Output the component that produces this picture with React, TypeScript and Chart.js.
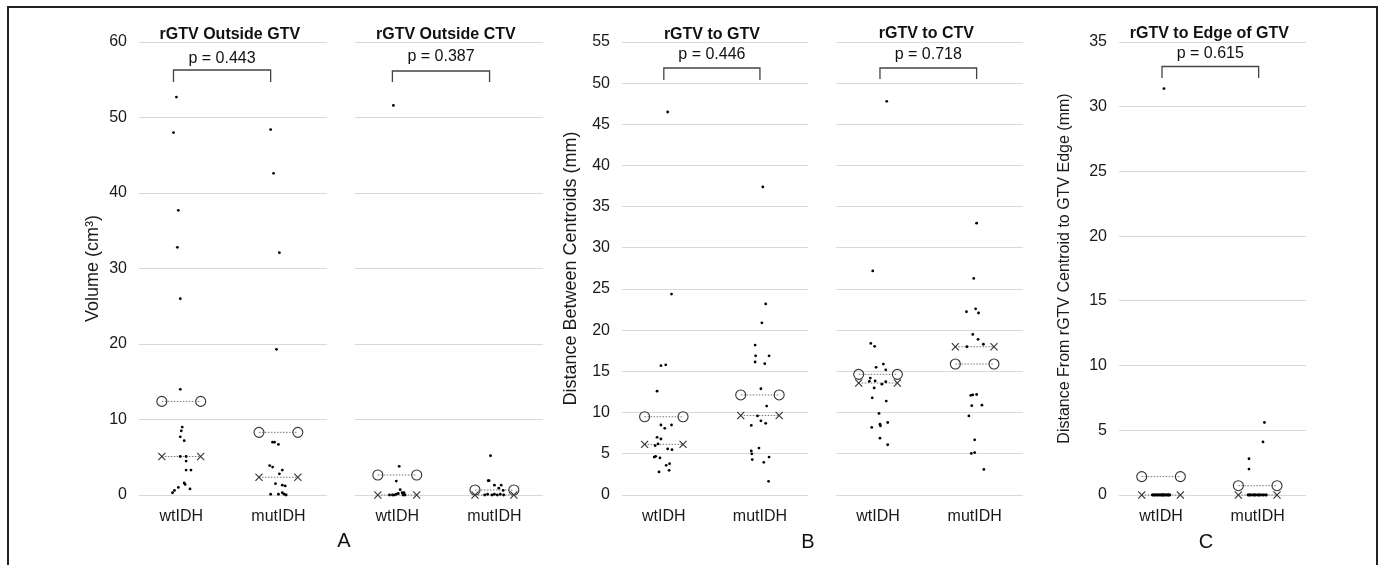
import React, { useEffect, useRef } from "react";
import { Chart, registerables } from "chart.js";

Chart.register(...registerables);

const FONT = '"Liberation Sans", Arial, Helvetica, sans-serif';
const W = 1383;
const H = 565;

// ---------- data ----------
const CATEGORIES = ["wtIDH", "mutIDH"];

// A1: rGTV Outside GTV (cm³)
const outGtvWt = [52.7, 48.0, 37.7, 32.8, 26.0, 14.0, 9.0, 8.5, 7.7, 7.2, 5.1, 5.1, 4.5, 3.3, 3.3, 1.6, 1.4, 0.8, 1.0, 0.6, 0.3];
const outGtvWtJitter = [-0.05, -0.08, -0.03, -0.04, -0.01, -0.01, 0.01, 0, -0.01, 0.03, -0.01, 0.05, 0.05, 0.05, 0.1, 0.03, 0.04, 0.09, -0.03, -0.07, -0.09];
const outGtvMut = [48.4, 42.6, 32.1, 19.3, 7.0, 7.0, 6.7, 3.9, 3.7, 3.3, 2.8, 1.5, 1.3, 1.2, 0.1, 0.1, 0.3, 0.1, 0.0];
const outGtvMutJitter = [-0.08, -0.05, 0.01, -0.02, -0.06, -0.04, 0, -0.09, -0.06, 0.04, 0.01, -0.03, 0.04, 0.07, -0.08, 0, 0.04, 0.06, 0.08];
const outGtvMeans = [12.4, 8.3];
const outGtvMedians = [5.1, 2.35];

// A2: rGTV Outside CTV (cm³)
const outCtvWt = [51.6, 3.8, 1.85, 0, 0, 0, 0.7, 0.3, 0.3, 0, 0.1, 0.2, 0];
const outCtvWtJitter = [-0.04, 0.02, -0.01, -0.08, -0.05, -0.03, 0.03, 0.05, 0.07, 0.08, -0.01, 0.01, 0.06];
const outCtvMut = [5.2, 1.9, 1.9, 1.3, 1.3, 0.9, 0.6, 0, 0.1, 0, 0.1, 0, 0.1, 0];
const outCtvMutJitter = [-0.04, -0.065, -0.055, 0, 0.07, 0.045, 0.09, -0.1, -0.07, -0.025, 0, 0.03, 0.06, 0.095];
const outCtvMeans = [2.65, 0.66];
const outCtvMedians = [0, 0];

// B1: rGTV to GTV (mm)
const toGtvWt = [46.5, 24.4, 15.7, 15.8, 12.6, 8.5, 8.5, 8.1, 7.0, 6.8, 6.0, 6.2, 5.6, 5.5, 4.6, 4.7, 4.5, 3.6, 3.8, 2.8, 3.0];
const toGtvWtJitter = [0.04, 0.08, -0.03, 0.02, -0.07, -0.03, 0.08, 0.01, -0.07, -0.03, -0.09, -0.06, 0.04, 0.085, -0.1, -0.085, -0.04, 0.025, 0.06, -0.05, 0.055];
const toGtvMut = [37.4, 23.2, 20.9, 18.2, 16.9, 16.9, 16.15, 15.95, 12.9, 10.8, 9.6, 9.0, 8.7, 8.45, 5.7, 5.35, 5.0, 4.3, 4.6, 3.97, 1.66];
const toGtvMutJitter = [0.03, 0.06, 0.02, -0.05, -0.045, 0.095, -0.05, 0.05, 0.01, 0.07, -0.025, 0.01, 0.06, -0.09, -0.01, -0.09, -0.085, -0.08, 0.095, 0.04, 0.09];
const toGtvMeans = [9.5, 12.15];
const toGtvMedians = [6.15, 9.65];

// B2: rGTV to CTV (mm)
const toCtvWt = [47.8, 27.2, 18.4, 18.05, 15.5, 15.9, 15.2, 14.2, 13.8, 13.85, 13.45, 13.75, 13.0, 11.8, 11.4, 9.9, 8.2, 8.4, 8.6, 8.8, 6.9, 6.1];
const toCtvWtJitter = [0.09, -0.055, -0.075, -0.035, -0.02, 0.055, 0.08, -0.08, -0.09, -0.03, 0.04, 0.08, -0.04, -0.06, 0.085, 0.01, -0.065, 0.025, 0.02, 0.1, 0.02, 0.1];
const toCtvMut = [33.0, 26.3, 22.25, 22.6, 22.1, 19.5, 18.9, 18.0, 18.3, 12.1, 12.15, 12.2, 10.85, 10.9, 9.6, 6.7, 5.05, 5.15, 3.1];
const toCtvMutJitter = [0.02, -0.01, -0.085, 0.01, 0.04, -0.02, 0.035, -0.08, 0.09, -0.04, -0.02, 0.02, -0.03, 0.075, -0.06, 0, -0.035, 0, 0.095];
const toCtvMeans = [14.65, 15.9];
const toCtvMedians = [13.6, 18.0];

// C: rGTV to Edge of GTV (mm)
const toEdgeWt = [31.4, 0, 0, 0, 0, 0, 0, 0, 0, 0, 0, 0, 0, 0, 0, 0, 0, 0, 0, 0, 0, 0];
const toEdgeWtJitter = [0.03, -0.09, -0.07, -0.065, -0.05, -0.04, -0.035, -0.02, -0.01, 0, 0.01, 0.015, 0.03, 0.04, 0.045, 0.06, 0.07, 0.075, 0.085, 0.09, -0.08, 0.02];
const toEdgeMut = [5.6, 4.1, 2.8, 2.0, 0, 0, 0, 0, 0, 0, 0, 0, 0, 0, 0, 0, 0, 0, 0, 0];
const toEdgeMutJitter = [0.07, 0.055, -0.09, -0.09, -0.1, -0.09, -0.08, -0.07, -0.05, -0.04, -0.03, -0.02, 0, 0.01, 0.02, 0.03, 0.05, 0.06, 0.08, 0.09];
const toEdgeMeans = [1.42, 0.72];
const toEdgeMedians = [0, 0];

const TITLES = ["rGTV Outside GTV", "rGTV Outside CTV", "rGTV to GTV", "rGTV to CTV", "rGTV to Edge of GTV"];
const P_VALUES = ["0.443", "0.387", "0.446", "0.718", "0.615"];
const Y_TITLES = ["Volume (cm³)", "Distance Between Centroids (mm)", "Distance From rGTV Centroid to GTV Edge (mm)"];
const PANEL_LETTERS = ["A", "B", "C"];

// ---------- layout (pixels) ----------
const SUBPLOTS = [
  { wt: outGtvWt, wtJ: outGtvWtJitter, mut: outGtvMut, mutJ: outGtvMutJitter, means: outGtvMeans, medians: outGtvMedians,
    yMax: 60, yStep: 10, yTitle: 0, left: 139, right: 327, axisLeft: 82, titleSize: 18, bShift: -0.08, bY: 70, bB: 82, pY: 63, tY: 39 },
  { wt: outCtvWt, wtJ: outCtvWtJitter, mut: outCtvMut, mutJ: outCtvMutJitter, means: outCtvMeans, medians: outCtvMedians,
    yMax: 60, yStep: 10, yTitle: -1, left: 355, right: 543, axisLeft: 355, titleSize: 18, bShift: -0.05, bY: 71, bB: 82, pY: 61, tY: 39 },
  { wt: toGtvWt, wtJ: toGtvWtJitter, mut: toGtvMut, mutJ: toGtvMutJitter, means: toGtvMeans, medians: toGtvMedians,
    yMax: 55, yStep: 5, yTitle: 1, left: 622, right: 808, axisLeft: 560, titleSize: 18, bShift: 0, bY: 68, bB: 80, pY: 59, tY: 39 },
  { wt: toCtvWt, wtJ: toCtvWtJitter, mut: toCtvMut, mutJ: toCtvMutJitter, means: toCtvMeans, medians: toCtvMedians,
    yMax: 55, yStep: 5, yTitle: -1, left: 836, right: 1023, axisLeft: 836, titleSize: 18, bShift: 0.02, bY: 68, bB: 79, pY: 59, tY: 38 },
  { wt: toEdgeWt, wtJ: toEdgeWtJitter, mut: toEdgeMut, mutJ: toEdgeMutJitter, means: toEdgeMeans, medians: toEdgeMedians,
    yMax: 35, yStep: 5, yTitle: 2, left: 1119, right: 1306, axisLeft: 1055, titleSize: 16, bShift: 0.01, bY: 66.5, bB: 78, pY: 57.5, tY: 38 },
];
const LETTER_POS = [
  { x: 344, y: 541 },
  { x: 808, y: 542 },
  { x: 1206, y: 542 },
];

const annotPlugin = {
  id: "annot",
  afterDraw(chart: any, _args: any, opts: any) {
    const ctx = chart.ctx;
    const xs = chart.scales.x;
    ctx.save();
    ctx.fillStyle = "#111";
    ctx.textAlign = "center";
    ctx.textBaseline = "alphabetic";
    ctx.font = `bold 16px ${FONT}`;
    ctx.fillText(opts.title, xs.getPixelForValue(1.5), opts.tY);
    const x1 = xs.getPixelForValue(1 + opts.bShift);
    const x2 = xs.getPixelForValue(2 + opts.bShift);
    ctx.strokeStyle = "#444";
    ctx.lineWidth = 1.3;
    ctx.beginPath();
    ctx.moveTo(x1, opts.bB);
    ctx.lineTo(x1, opts.bY);
    ctx.lineTo(x2, opts.bY);
    ctx.lineTo(x2, opts.bB);
    ctx.stroke();
    ctx.font = `16px ${FONT}`;
    ctx.fillText("p = " + opts.p, (x1 + x2) / 2, opts.pY);
    if (opts.letter) {
      ctx.font = `20px ${FONT}`;
      ctx.textBaseline = "middle";
      ctx.fillText(opts.letter.text, opts.letter.x, opts.letter.y);
    }
    ctx.restore();
  },
};

function buildConfig(i: number): any {
  const s = SUBPLOTS[i];
  const points = [
    ...s.wt.map((v, k) => ({ x: 1 + s.wtJ[k], y: v })),
    ...s.mut.map((v, k) => ({ x: 2 + s.mutJ[k], y: v })),
  ];
  const markerSets: any[] = [];
  [0, 1].forEach((c) => {
    markerSets.push({
      data: [
        { x: c + 1 - 0.2, y: s.medians[c] },
        { x: c + 1 + 0.2, y: s.medians[c] },
      ],
      showLine: true,
      borderColor: "#777",
      borderWidth: 1,
      borderDash: [1.5, 1.5],
      pointStyle: "crossRot",
      pointRadius: 5,
      pointBorderColor: "#333",
      pointBorderWidth: 1.1,
      pointBackgroundColor: "#333",
      clip: false,
    });
    markerSets.push({
      data: [
        { x: c + 1 - 0.2, y: s.means[c] },
        { x: c + 1 + 0.2, y: s.means[c] },
      ],
      showLine: true,
      borderColor: "#777",
      borderWidth: 1,
      borderDash: [1.5, 1.5],
      pointStyle: "circle",
      pointRadius: 5,
      pointBorderColor: "#333",
      pointBorderWidth: 1.1,
      pointBackgroundColor: "rgba(255,255,255,0)",
      clip: false,
    });
  });
  const hasTicks = s.yTitle >= 0;
  const letterIdx = i === 1 ? 0 : i === 3 ? 1 : i === 4 ? 2 : -1;
  return {
    type: "scatter",
    data: {
      datasets: [
        {
          data: points,
          pointRadius: 1.4,
          pointBackgroundColor: "#000",
          pointBorderWidth: 0,
          clip: false,
        },
        ...markerSets,
      ],
    },
    plugins: [annotPlugin],
    options: {
      responsive: false,
      animation: false,
      events: [],
      layout: { padding: { left: s.axisLeft, right: W - s.right, top: 42, bottom: 0 } },
      plugins: {
        legend: { display: false },
        tooltip: { enabled: false },
        title: { display: false },
        annot: {
          title: TITLES[i],
          p: P_VALUES[i],
          bShift: s.bShift,
          bY: s.bY,
          bB: s.bB,
          pY: s.pY,
          tY: s.tY,
          letter: letterIdx >= 0 ? { text: PANEL_LETTERS[letterIdx], ...LETTER_POS[letterIdx] } : null,
        },
      },
      scales: {
        x: {
          type: "linear",
          min: 0.565,
          max: 2.5,
          grid: { display: false, drawTicks: false },
          border: { display: false },
          afterBuildTicks: (sc: any) => {
            sc.ticks = [{ value: 1 }, { value: 2 }];
          },
          afterFit: (sc: any) => {
            sc.height = H - 495;
          },
          ticks: {
            autoSkip: false,
            maxRotation: 0,
            padding: 12,
            color: "#1a1a1a",
            font: { family: FONT, size: 16 },
            callback: (v: number) => CATEGORIES[Math.round(v) - 1],
          },
        },
        y: {
          min: 0,
          max: s.yMax,
          grid: { color: "#d9d9d9", lineWidth: 1, drawTicks: false },
          border: { display: false },
          afterFit: (sc: any) => {
            sc.width = s.left - s.axisLeft;
          },
          ticks: {
            display: hasTicks,
            stepSize: s.yStep,
            padding: 12,
            color: "#1a1a1a",
            font: { family: FONT, size: 16 },
          },
          title: {
            display: hasTicks,
            text: hasTicks ? Y_TITLES[s.yTitle] : "",
            color: "#1a1a1a",
            font: { family: FONT, size: s.titleSize },
            padding: 0,
          },
        },
      },
    },
  };
}

function SubplotCanvas({ index }: { index: number }) {
  const ref = useRef<HTMLCanvasElement | null>(null);
  useEffect(() => {
    if (!ref.current) return;
    const chart = new Chart(ref.current, buildConfig(index));
    return () => chart.destroy();
  }, [index]);
  return (
    <canvas
      ref={ref}
      width={W}
      height={H}
      style={{ position: "absolute", left: 0, top: 0, width: W, height: H }}
    />
  );
}

export default function App() {
  return (
    <div
      style={{
        position: "absolute",
        left: 0,
        top: 0,
        width: W,
        height: H,
        background: "#fff",
        overflow: "hidden",
        fontFamily: FONT,
      }}
    >
      <div
        style={{
          position: "absolute",
          left: 7,
          top: 6,
          width: 1371,
          height: 620,
          border: "2px solid #222",
          boxSizing: "border-box",
        }}
      />
      {SUBPLOTS.map((_, i) => (
        <SubplotCanvas key={i} index={i} />
      ))}
    </div>
  );
}
